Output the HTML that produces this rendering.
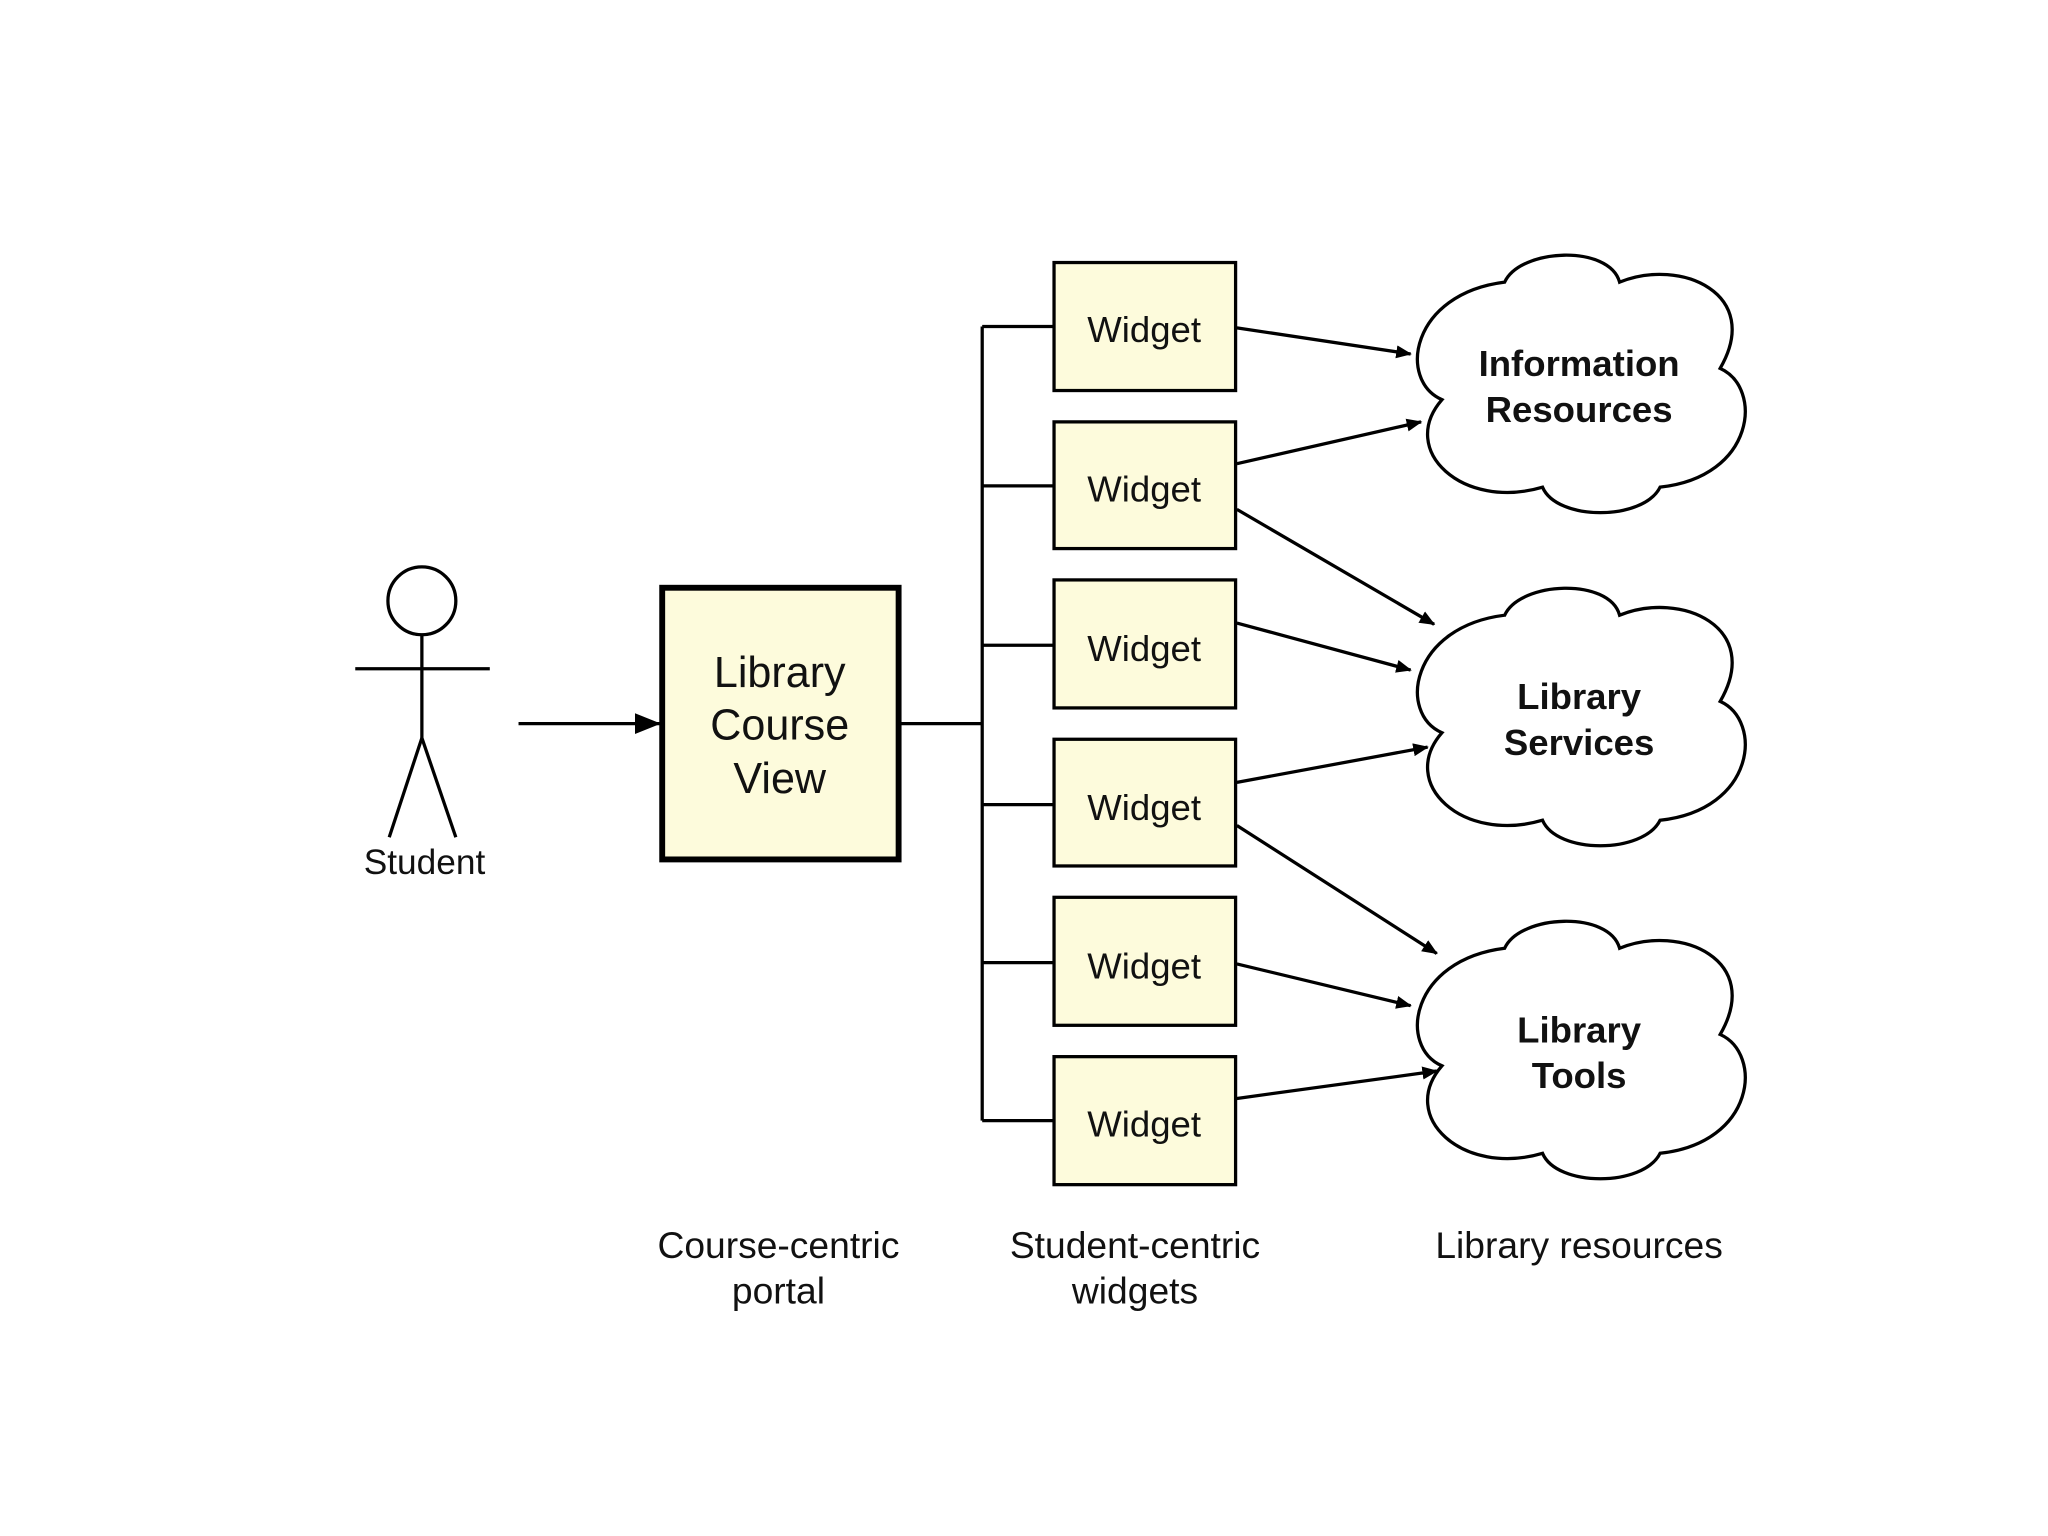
<!DOCTYPE html>
<html><head><meta charset="utf-8"><style>
html,body{margin:0;padding:0;background:#fff;}
svg{display:block;}
text{font-family:"Liberation Sans",sans-serif;fill:#111;}
</style></head><body>
<svg width="2048" height="1536" viewBox="0 0 1568 1176" xmlns="http://www.w3.org/2000/svg">
<defs>
<marker id="a" markerWidth="12" markerHeight="10" refX="11" refY="5" orient="auto" markerUnits="userSpaceOnUse" viewBox="0 0 12 10">
<path d="M0,0 L12,5 L0,10 Z" fill="#000"/></marker>
<marker id="b" markerWidth="20" markerHeight="16" refX="19" refY="8" orient="auto" markerUnits="userSpaceOnUse" viewBox="0 0 20 16">
<path d="M0,0 L20,8 L0,16 Z" fill="#000"/></marker>
<path id="cloud" d="M22,113 C-12,98 -2,32 70,23 C82,-3 150,-6 158,23 C205,4 268,32 235,89 C268,104 262,172 189,180 C176,206 110,206 99,180 C38,198 -12,152 22,113 Z" fill="#fff" stroke="#000" stroke-width="2.5"/>
</defs>
<rect width="1568" height="1176" fill="#fff"/>
<g stroke="#000" stroke-width="2.5" fill="none">
<circle cx="323" cy="460" r="26" fill="#fff"/>
<line x1="323" y1="486" x2="323" y2="565"/>
<line x1="272" y1="512" x2="375" y2="512"/>
<line x1="323" y1="565" x2="298" y2="641"/>
<line x1="323" y1="565" x2="349" y2="641"/>
</g>
<text x="325" y="669" font-size="27" text-anchor="middle">Student</text>
<line x1="397" y1="554" x2="505" y2="554" stroke="#000" stroke-width="2.5" marker-end="url(#b)"/>
<rect x="507" y="450" width="181" height="208" fill="#fdfbdc" stroke="#000" stroke-width="4.5"/>
<text font-size="33" text-anchor="middle"><tspan x="597" y="526">Library</tspan><tspan x="597" y="566">Course</tspan><tspan x="597" y="607">View</tspan></text>
<g stroke="#000" stroke-width="2.5" fill="none">
<line x1="688" y1="554" x2="752" y2="554"/>
<line x1="752" y1="250" x2="752" y2="858"/>
<line x1="752" y1="250" x2="807" y2="250"/>
<line x1="752" y1="372" x2="807" y2="372"/>
<line x1="752" y1="494" x2="807" y2="494"/>
<line x1="752" y1="616" x2="807" y2="616"/>
<line x1="752" y1="737" x2="807" y2="737"/>
<line x1="752" y1="858" x2="807" y2="858"/>
</g>
<g fill="#fdfbdc" stroke="#000" stroke-width="2.5">
<rect x="807" y="201" width="139" height="98"/>
<rect x="807" y="323" width="139" height="97"/>
<rect x="807" y="444" width="139" height="98"/>
<rect x="807" y="566" width="139" height="97"/>
<rect x="807" y="687" width="139" height="98"/>
<rect x="807" y="809" width="139" height="98"/>
</g>
<g font-size="28" text-anchor="middle">
<text x="876" y="262">Widget</text>
<text x="876" y="384">Widget</text>
<text x="876" y="506">Widget</text>
<text x="876" y="628">Widget</text>
<text x="876" y="749">Widget</text>
<text x="876" y="870">Widget</text>
</g>
<use href="#cloud" x="1082" y="193"/>
<use href="#cloud" x="1082" y="448"/>
<use href="#cloud" x="1082" y="703"/>
<g font-size="28" font-weight="bold" text-anchor="middle">
<text><tspan x="1209" y="288">Information</tspan><tspan x="1209" y="323">Resources</tspan></text>
<text><tspan x="1209" y="543">Library</tspan><tspan x="1209" y="578">Services</tspan></text>
<text><tspan x="1209" y="798">Library</tspan><tspan x="1209" y="833">Tools</tspan></text>
</g>
<g stroke="#000" stroke-width="2.5" marker-end="url(#a)">
<line x1="947" y1="251" x2="1080" y2="271"/>
<line x1="947" y1="355" x2="1088" y2="323"/>
<line x1="947" y1="390" x2="1098" y2="478"/>
<line x1="947" y1="477" x2="1080" y2="513"/>
<line x1="947" y1="599" x2="1093" y2="572"/>
<line x1="947" y1="632" x2="1100" y2="730"/>
<line x1="947" y1="738" x2="1080" y2="770"/>
<line x1="947" y1="841" x2="1100" y2="820"/>
</g>
<g font-size="28.5" text-anchor="middle">
<text><tspan x="596" y="963">Course-centric</tspan><tspan x="596" y="998">portal</tspan></text>
<text><tspan x="869" y="963">Student-centric</tspan><tspan x="869" y="998">widgets</tspan></text>
<text x="1209" y="963">Library resources</text>
</g>
</svg>
</body></html>
